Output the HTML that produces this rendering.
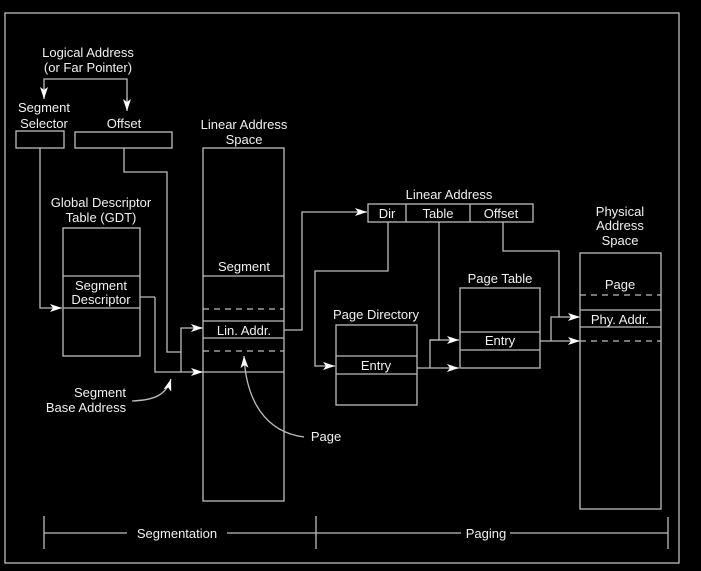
<!DOCTYPE html>
<html><head><style>
html,body{margin:0;padding:0;background:#000;}
svg{display:block;}
text{font-family:"Liberation Sans",Arial,sans-serif;font-size:13px;fill:#f0f0f0;text-anchor:middle;}
</style></head><body>
<svg width="701" height="571" viewBox="0 0 701 571" xmlns="http://www.w3.org/2000/svg">
<defs>
<marker id="a" viewBox="0 0 12 8" refX="12" refY="4" markerWidth="12" markerHeight="8" markerUnits="userSpaceOnUse" orient="auto">
<path d="M0,0 L12,4 L0,8 L3,4 Z" fill="#fff"/>
</marker>
</defs>
<rect x="0" y="0" width="701" height="571" fill="#000"/>
<g fill="none" stroke="#bdbdbd" stroke-width="1.3">
<rect x="5" y="13" width="674" height="550"/>
<path d="M44,98 V79 H127 V110" />
<line x1="44" y1="88" x2="44" y2="99" marker-end="url(#a)"/>
<line x1="127" y1="98" x2="127" y2="111" marker-end="url(#a)"/>
<rect x="16" y="131" width="48" height="17"/>
<rect x="75" y="132" width="97" height="16"/>
<rect x="63" y="228" width="77" height="128"/>
<line x1="63" y1="276" x2="140" y2="276"/>
<line x1="63" y1="308" x2="140" y2="308"/>
<path d="M40,148 V308 H62" marker-end="url(#a)"/>
<path d="M124,148 V172 H167 V352 H181"/>
<path d="M181,372 V328 H203" marker-end="url(#a)"/>
<path d="M155,297 H140 M155,297 V372 H203" marker-end="url(#a)"/>
<rect x="203" y="148" width="81" height="353"/>
<line x1="203" y1="276" x2="284" y2="276"/>
<line x1="203" y1="309" x2="284" y2="309" stroke-dasharray="6,5"/>
<line x1="203" y1="321" x2="284" y2="321"/>
<line x1="203" y1="338" x2="284" y2="338"/>
<line x1="203" y1="351" x2="284" y2="351" stroke-dasharray="6,5"/>
<line x1="203" y1="372" x2="284" y2="372"/>
<path d="M284,330 H302 V212 H367" marker-end="url(#a)"/>
<rect x="368" y="204" width="165" height="18"/>
<line x1="406" y1="204" x2="406" y2="222"/>
<line x1="470" y1="204" x2="470" y2="222"/>
<path d="M388,222 V271 H315 V366 H335" marker-end="url(#a)"/>
<rect x="336" y="325" width="81" height="80"/>
<line x1="336" y1="356" x2="417" y2="356"/>
<line x1="336" y1="374" x2="417" y2="374"/>
<rect x="460" y="288" width="80" height="80"/>
<line x1="460" y1="332" x2="540" y2="332"/>
<line x1="460" y1="350" x2="540" y2="350"/>
<path d="M439,222 V340 H430 V368" />
<line x1="430" y1="340" x2="459" y2="340" marker-end="url(#a)"/>
<path d="M417,368 H459" marker-end="url(#a)"/>
<path d="M503,222 V251 H559 V317 H551 V341"/>
<line x1="559" y1="317" x2="580" y2="317" marker-end="url(#a)"/>
<path d="M540,341 H580" marker-end="url(#a)"/>
<rect x="580" y="253" width="81" height="256"/>
<line x1="580" y1="295" x2="661" y2="295" stroke-dasharray="6,5"/>
<line x1="580" y1="310" x2="661" y2="310"/>
<line x1="580" y1="327" x2="661" y2="327"/>
<line x1="580" y1="341" x2="661" y2="341" stroke-dasharray="6,5"/>
<path d="M304,437 C265,432 246,400 244,356" marker-end="url(#a)"/>
<path d="M132,401 C155,400 166,395 171,379" marker-end="url(#a)"/>
<line x1="44" y1="516" x2="44" y2="549"/>
<line x1="316" y1="516" x2="316" y2="549"/>
<line x1="668" y1="517" x2="668" y2="549"/>
<line x1="44" y1="533" x2="127" y2="533"/>
<line x1="227" y1="533" x2="461" y2="533"/>
<line x1="510" y1="533" x2="668" y2="533"/>
</g>
<text x="88" y="57">Logical Address</text>
<text x="88" y="72">(or Far Pointer)</text>
<text x="44" y="112">Segment</text>
<text x="44" y="128">Selector</text>
<text x="124" y="128">Offset</text>
<text x="101" y="207">Global Descriptor</text>
<text x="101" y="222">Table (GDT)</text>
<text x="101" y="290">Segment</text>
<text x="101" y="304">Descriptor</text>
<text x="244" y="129">Linear Address</text>
<text x="244" y="144">Space</text>
<text x="244" y="271">Segment</text>
<text x="244" y="335">Lin. Addr.</text>
<text x="449" y="199">Linear Address</text>
<text x="387" y="218">Dir</text>
<text x="438" y="218">Table</text>
<text x="501" y="218">Offset</text>
<text x="376" y="319">Page Directory</text>
<text x="376" y="370">Entry</text>
<text x="500" y="283">Page Table</text>
<text x="500" y="345">Entry</text>
<text x="620" y="216">Physical</text>
<text x="620" y="230">Address</text>
<text x="620" y="245">Space</text>
<text x="620" y="289">Page</text>
<text x="620" y="324">Phy. Addr.</text>
<text x="100" y="397">Segment</text>
<text x="86" y="412">Base Address</text>
<text x="326" y="441">Page</text>
<text x="177" y="538">Segmentation</text>
<text x="486" y="538">Paging</text>
</svg>
</body></html>
